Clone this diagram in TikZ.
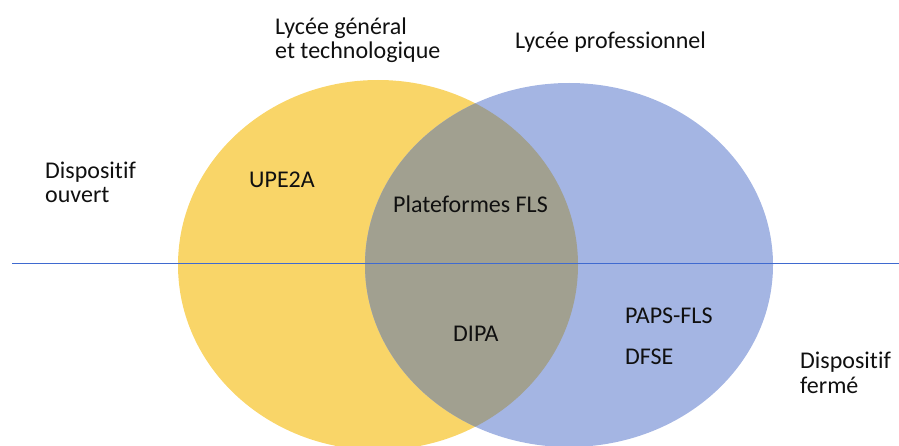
\documentclass[tikz,border=0pt]{standalone}
\usepackage{fontspec}
\setmainfont{Carlito}[Ligatures=NoCommon]
\definecolor{venyellow}{HTML}{F9D568}
\definecolor{venblue}{HTML}{A4B5E3}
\definecolor{vengray}{HTML}{A1A090}
\definecolor{linblue}{HTML}{3F6AD0}
\definecolor{txt}{HTML}{101010}
\begin{document}
\begin{tikzpicture}[x=1pt,y=-1pt,
  lbl/.style={inner sep=0pt, anchor=base west, align=left, text=txt,
    font=\fontsize{24}{24.5}\selectfont}]
\useasboundingbox (0,0) rectangle (899,446);
\clip (0,0) rectangle (899,446);
% circles
\fill[venyellow] (378,265) ellipse [x radius=200, y radius=185];
\fill[venblue] (569,265) ellipse [x radius=204, y radius=182];
\begin{scope}
  \clip (378,265) ellipse [x radius=200, y radius=185];
  \fill[vengray] (569,265) ellipse [x radius=204, y radius=182];
\end{scope}
% separating line
\coordinate (lineL) at (12,263.5);
\coordinate (lineR) at (899,263.5);
\draw[linblue, line width=1.1pt] (lineL) -- (lineR);
% labels (multi-line nodes are placed by their last baseline)
\node[lbl] (lgt) at (275,59) {Lycée général\\et technologique};
\node[lbl] (lp) at (515,48.5) {Lycée professionnel};
\node[lbl] (dout) at (45,203) {Dispositif\\ouvert};
\node[lbl] (dferm) at (800,393) {Dispositif\\fermé};
\node[lbl] (upe) at (249,188) {UPE2A};
\node[lbl] (plat) at (393,213) {Plateformes FLS};
\node[lbl] (dipa) at (453,341) {DIPA};
\node[lbl] (paps) at (625,323) {PAPS-FLS};
\node[lbl] (dfse) at (625,364) {DFSE};
\end{tikzpicture}
\end{document}
